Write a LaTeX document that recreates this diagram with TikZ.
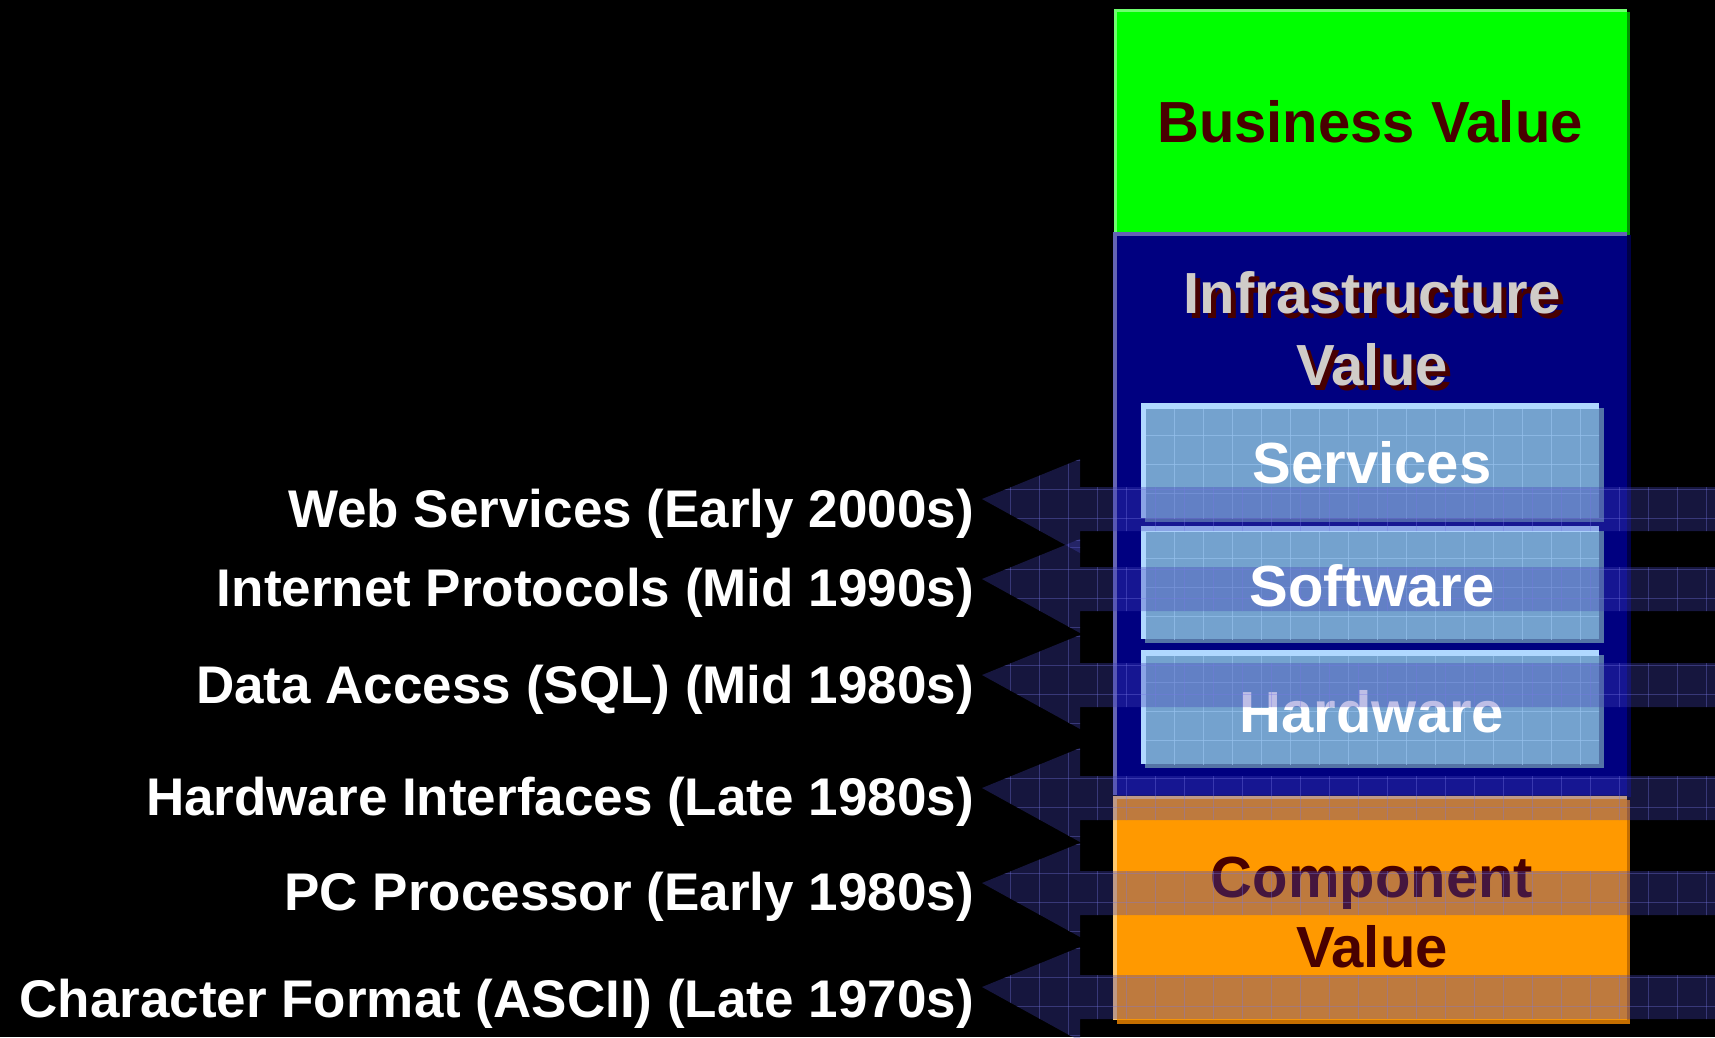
\documentclass[tikz,border=0pt]{standalone}
\usepackage{fontspec}
\setmainfont{Liberation Sans}
\definecolor{bizgreen}{RGB}{0,255,0}
\definecolor{bizlight}{RGB}{110,255,110}
\definecolor{bizdark}{RGB}{0,150,0}
\definecolor{infrablue}{RGB}{0,0,128}
\definecolor{infralight}{RGB}{100,100,180}
\definecolor{infradark}{RGB}{0,0,70}
\definecolor{compor}{RGB}{255,153,0}
\definecolor{complight}{RGB}{255,200,110}
\definecolor{compdark}{RGB}{196,110,0}
\definecolor{darkmaroon}{RGB}{72,0,0}
\definecolor{infratext}{RGB}{208,204,200}
\definecolor{layerfill}{RGB}{116,162,206}
\definecolor{layerlight}{RGB}{176,216,255}
\definecolor{layerdark}{RGB}{84,116,166}
\definecolor{layergrid}{RGB}{150,192,236}
\definecolor{arrowblue}{RGB}{65,65,182}
\definecolor{arrowgrid}{RGB}{120,120,230}
\newcommand\mydropshadow[1]{\rlap{\kern5pt\raisebox{-5pt}{\textcolor{darkmaroon}{#1}}}#1}
\tikzset{
  lbl/.style={text=white, font=\fontsize{53}{60}\selectfont\bfseries, anchor=base east, inner sep=0pt},
  ttl/.style={font=\fontsize{58}{70}\selectfont\bfseries, anchor=base, inner sep=0pt},
  layergridline/.style={draw=layergrid, line width=1pt, opacity=0.7},
  arrowgridline/.style={draw=arrowgrid, line width=1pt, opacity=0.35},
  arrowfill/.style={fill=arrowblue, fill opacity=0.34},
}
\begin{document}
\begin{tikzpicture}[x=1pt,y=-1pt]
\useasboundingbox (0,0) rectangle (1715,1037);
\fill[black] (0,0) rectangle (1715,1037);
% Business value box
\fill[bizdark] (1117,12) rectangle (1630,235);
\fill[bizlight] (1114,9) rectangle (1627,232);
\fill[bizgreen] (1117,12) rectangle (1627,232);
% Infrastructure value box
\fill[infradark] (1117,235) rectangle (1631,797);
\fill[infralight] (1113,232) rectangle (1627,795);
\fill[infrablue] (1117,236) rectangle (1627,795);
% Component value box
\fill[compdark] (1117,800) rectangle (1630,1024);
\fill[complight] (1113,796) rectangle (1627,1020);
\fill[compor] (1117,799) rectangle (1627,1020);
% layer boxes
\foreach \ya/\yb in {403/522, 526/643, 650/768} {
  \fill[layerdark] (1145,\ya+5) rectangle (1604,\yb);
  \fill[layerlight] (1141,\ya) rectangle (1599,\yb-4);
  \fill[layerfill] (1146,\ya+6) rectangle (1599,\yb-4);
  \begin{scope}
    \clip (1146,\ya+6) rectangle (1599,\yb-4);
    \foreach \k in {0,...,16} \draw[layergridline] ({1116+29*\k},\ya) -- ++(0,130);
    \foreach \k in {0,...,4} \draw[layergridline] (1140,{\ya+3+29*\k}) -- (1605,{\ya+3+29*\k});
  \end{scope}
}
% titles
\node[ttl, text=darkmaroon] (biz) at (1370,142) {Business Value};
\node[ttl, text=infratext] (infra1) at (1372,313) {\mydropshadow{Infrastructure}};
\node[ttl, text=infratext] (infra2) at (1372,385) {\mydropshadow{Value}};
\node[ttl, text=white] (serv) at (1372,483) {Services};
\node[ttl, text=white] (hard) at (1372,732) {Hardware};
\node[ttl, text=darkmaroon] (comp1) at (1372,897) {Component};
\node[ttl, text=darkmaroon] (comp2) at (1372,967) {Value};
% labels
\node[lbl] (l1) at (974,527) {Web Services (Early 2000s)};
\node[lbl] (l2) at (974,606) {Internet Protocols (Mid 1990s)};
\node[lbl] (l3) at (974,703) {Data Access (SQL) (Mid 1980s)};
\node[lbl] (l4) at (974,815) {Hardware Interfaces (Late 1980s)};
\node[lbl] (l5) at (974,910) {PC Processor (Early 1980s)};
\node[lbl] (l6) at (974,1017) {Character Format (ASCII) (Late 1970s)};
% arrows
\foreach \B in {487,567,663,776,871,975} {
  \begin{scope}
    \clip (1715,\B) -- (1080,\B) -- (1080,\B-28) -- (982,\B+12) -- (1080,\B+66) -- (1080,\B+44) -- (1715,\B+44) -- cycle;
    \fill[arrowfill] (970,\B-30) rectangle (1715,\B+70);
    \foreach \k in {0,...,27} \draw[arrowgridline] ({952+29*\k},\B-30) -- ++(0,100);
    \foreach \g in {-27,2,31,60} \draw[arrowgridline] (970,\B+\g) -- (1715,\B+\g);
  \end{scope}
}
% text drawn above the arrow band
\node[ttl, text=white] (soft) at (1372,606) {Software};
\end{tikzpicture}
\end{document}
